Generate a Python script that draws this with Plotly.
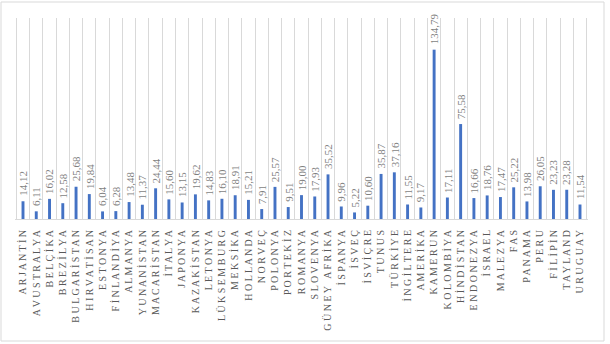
import plotly.graph_objects as go

countries = ["ARJANTİN", "AVUSTRALYA", "BELÇİKA", "BREZİLYA", "BULGARİSTAN", "HIRVATİSAN",
             "ESTONYA", "FİNLANDİYA", "ALMANYA", "YUNANİSTAN", "MACARİSTAN", "İTALYA",
             "JAPONYA", "KAZAKİSTAN", "LETONYA", "LÜKSEMBURG", "MEKSİKA", "HOLLANDA",
             "NORVEÇ", "POLONYA", "PORTEKİZ", "ROMANYA", "SLOVENYA", "GÜNEY AFRİKA",
             "İSPANYA", "İSVEÇ", "İSVİÇRE", "TUNUS", "TÜRKİYE", "İNGİLTERE", "AMERİKA",
             "KAMERUN", "KOLOMBİYA", "HİNDİSTAN", "ENDONEZYA", "İSRAEL", "MALEZYA",
             "FAS", "PANAMA", "PERU", "FİLİPİN", "TAYLAND", "URUGUAY"]
values = [14.12, 6.11, 16.02, 12.58, 25.68, 19.84, 6.04, 6.28, 13.48, 11.37, 24.44, 15.60,
          13.15, 19.62, 14.83, 16.10, 18.91, 15.21, 7.91, 25.57, 9.51, 19.00, 17.93, 35.52,
          9.96, 5.22, 10.60, 35.87, 37.16, 11.55, 9.17, 134.79, 17.11, 75.58, 16.66, 18.76,
          17.47, 25.22, 13.98, 26.05, 23.23, 23.28, 11.54]


def spaced(name):
    words = name.split(" ")
    return "\u00a0\u00a0\u00a0".join(" ".join(list(w)) for w in words)


labels = [spaced(c) for c in countries]

fig = go.Figure(go.Bar(
    x=labels, y=values,
    marker=dict(color="#4472C4", line=dict(width=0)),
))

annotations = [dict(x=lab, y=v, xref="x", yref="y",
                    text=f"{v:.2f}".replace(".", ","),
                    textangle=-90, showarrow=False,
                    xanchor="center", yanchor="bottom", yshift=3,
                    font=dict(family="Liberation Serif", size=11, color="#7F7F7F"))
               for lab, v in zip(labels, values)]

fig.update_layout(
    width=610, height=344,
    margin=dict(l=15, r=22, t=18, b=125),
    paper_bgcolor="white", plot_bgcolor="white",
    bargap=0.78,
    showlegend=False,
    annotations=annotations,
    xaxis=dict(
        type="category",
        tickangle=-90,
        tickfont=dict(family="Liberation Serif", size=10, color="#595959"),
        showgrid=True, gridcolor="#D9D9D9", gridwidth=1,
        tickson="boundaries", ticks="", ticklabelstandoff=6,
        showline=True, linecolor="#D9D9D9", linewidth=1,
    ),
    yaxis=dict(range=[0, 160], visible=False, showgrid=False),
    shapes=[dict(type="rect", xref="paper", yref="paper",
                 x0=(1 - 15) / 573, x1=(604 - 15) / 573,
                 y0=(219 - 341) / 201, y1=(219 - 2) / 201,
                 line=dict(color="#D9D9D9", width=1), fillcolor="rgba(0,0,0,0)",
                 layer="below")],
)

fig.write_html("out.html")
